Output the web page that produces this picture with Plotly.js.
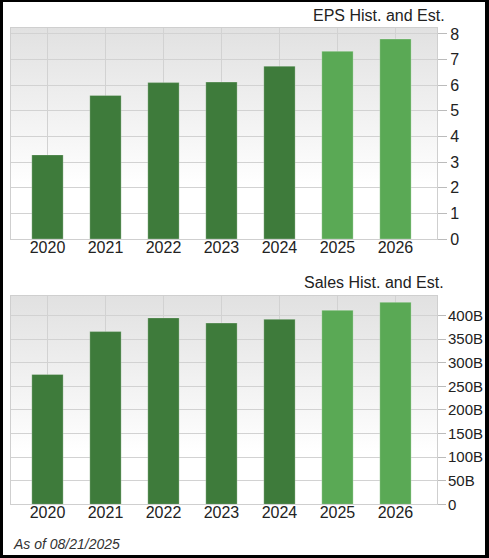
<!DOCTYPE html>
<html>
<head>
<meta charset="utf-8">
<script src="https://cdn.plot.ly/plotly-3.0.1.min.js"></script>
<style>
  html, body { margin: 0; padding: 0; background: #000; }
  #chart { position: absolute; left: 3px; top: 2px; width: 482px; height: 553px; background: #fff; }
</style>
</head>
<body>
<div id="chart"></div>
<script>
// donnees
var annees = ['2020', '2021', '2022', '2023', '2024', '2025', '2026'];
var eps = [3.28, 5.60, 6.10, 6.12, 6.74, 7.32, 7.80];
var ventes = [275, 366, 395, 384, 392, 411, 428]; // en milliards
var ventesTicks = [0, 50, 100, 150, 200, 250, 300, 350, 400];
var ventesLabels = ['0', '50B', '100B', '150B', '200B', '250B', '300B', '350B', '400B'];
var estimation = [false, false, false, false, false, true, true];

var vertFonce = '#3e7b3b';
var vertClair = '#5aa955';
var couleurs = estimation.map(function(e) { return e ? vertClair : vertFonce; });

var police = { family: 'Liberation Sans, Arial, sans-serif', size: 16, color: '#222' };

// fond en degrade gris -> blanc
var degrade = 'data:image/svg+xml;utf8,' + encodeURIComponent(
  '<svg xmlns="http://www.w3.org/2000/svg" width="10" height="100" preserveAspectRatio="none">' +
  '<defs><linearGradient id="g" x1="0" y1="0" x2="0" y2="1">' +
  '<stop offset="0" stop-color="#e1e1e1"/><stop offset="0.75" stop-color="#ffffff"/>' +
  '</linearGradient></defs><rect width="10" height="100" fill="url(#g)"/></svg>');

function fond(xa, ya) {
  return {
    source: degrade, xref: xa + ' domain', yref: ya + ' domain',
    x: 0, y: 1, sizex: 1, sizey: 1, xanchor: 'left', yanchor: 'top',
    sizing: 'stretch', layer: 'below'
  };
}

var traceEps = {
  x: annees, y: eps, type: 'bar', width: 0.54,
  marker: { color: couleurs, line: { color: 'rgba(255,255,255,0.25)', width: 1 } },
  hoverinfo: 'x+y', xaxis: 'x', yaxis: 'y'
};

var traceVentes = {
  x: annees, y: ventes, type: 'bar', width: 0.54,
  marker: { color: couleurs, line: { color: 'rgba(255,255,255,0.25)', width: 1 } },
  hoverinfo: 'x+y', xaxis: 'x2', yaxis: 'y2'
};

var axeX = {
  type: 'category', range: [-0.629, 6.716],
  showgrid: true, gridcolor: '#d2d2d2', gridwidth: 1,
  showline: true, linecolor: '#cfcfcf', mirror: true,
  ticks: '', tickfont: police, ticklabelstandoff: -6, fixedrange: true
};

var layout = {
  width: 482, height: 553,
  margin: { l: 0, r: 0, t: 0, b: 0 },
  paper_bgcolor: '#fff', plot_bgcolor: 'rgba(0,0,0,0)',
  showlegend: false, bargap: 0,
  xaxis: Object.assign({}, axeX, { domain: [0.0166, 0.9004], anchor: 'y' }),
  yaxis: {
    domain: [0.5714, 0.9530], anchor: 'x', side: 'right',
    range: [0, 8.23], dtick: 1, tick0: 0,
    showgrid: true, gridcolor: '#d2d2d2', zeroline: false,
    showline: true, linecolor: '#cfcfcf', mirror: true,
    ticks: 'outside', ticklen: 9, tickcolor: '#bbb',
    tickfont: police, fixedrange: true
  },
  xaxis2: Object.assign({}, axeX, { domain: [0.0166, 0.9004], anchor: 'y2' }),
  yaxis2: {
    domain: [0.0917, 0.4689], anchor: 'x2', side: 'right',
    range: [0, 442],
    tickmode: 'array', tickvals: ventesTicks, ticktext: ventesLabels,
    showgrid: true, gridcolor: '#d2d2d2', zeroline: false,
    showline: true, linecolor: '#cfcfcf', mirror: true,
    ticks: 'outside', ticklen: 8, tickcolor: '#bbb',
    tickfont: Object.assign({}, police, { size: 15 }), ticklabelstandoff: -1,
    fixedrange: true
  },
  images: [fond('x', 'y'), fond('x2', 'y2')],
  annotations: [
    { text: 'EPS Hist. and Est.', xref: 'paper', yref: 'paper', x: 0.921, y: 0.9747,
      xanchor: 'right', yanchor: 'middle', showarrow: false, font: police },
    { text: 'Sales Hist. and Est.', xref: 'paper', yref: 'paper', x: 0.919, y: 0.4931,
      xanchor: 'right', yanchor: 'middle', showarrow: false, font: police },
    { text: '<i>As of 08/21/2025</i>', xref: 'paper', yref: 'paper', x: 0.0166, y: 0.0193,
      xanchor: 'left', yanchor: 'middle', showarrow: false,
      font: { family: 'Liberation Sans, Arial, sans-serif', size: 14, color: '#333' } }
  ]
};

Plotly.newPlot('chart', [traceEps, traceVentes], layout, { displayModeBar: false, staticPlot: true });
</script>
</body>
</html>
